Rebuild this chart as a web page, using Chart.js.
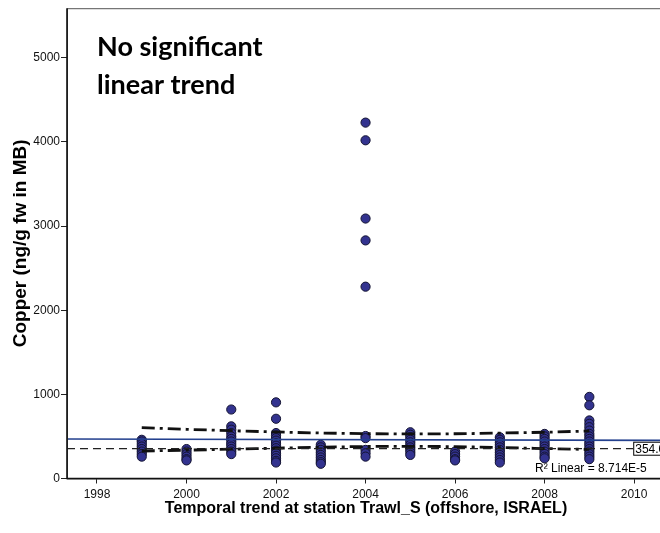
<!DOCTYPE html>
<html>
<head>
<meta charset="utf-8">
<script src="https://cdn.jsdelivr.net/npm/chart.js@4/dist/chart.umd.min.js"></script>
<style>
  html, body { margin: 0; padding: 0; background: #fff; overflow: hidden; }
  #wrap { width: 660px; height: 533px; overflow: hidden; }
</style>
</head>
<body>
<div id="wrap"><canvas id="chart" width="680" height="533"></canvas></div>
<script>
// sampling years and copper concentrations per year
const sampleYears = [1999, 2000, 2001, 2002, 2003, 2004, 2005, 2006, 2007, 2008, 2009];
const copperValues = [
  [460, 440, 410, 380, 350, 320, 290, 260],
  [350, 320, 290, 260, 230, 215],
  [820, 620, 580, 540, 500, 470, 440, 410, 380, 350, 320, 290],
  [905, 710, 540, 510, 480, 450, 420, 390, 360, 330, 300, 270, 240, 210, 190],
  [400, 370, 340, 310, 280, 250, 220, 195, 175],
  [4230, 4020, 3090, 2830, 2280, 505, 480, 340, 300, 260],
  [550, 520, 490, 460, 430, 400, 370, 340, 310, 280],
  [320, 290, 260, 230, 215],
  [490, 460, 430, 400, 370, 340, 310, 280, 250, 220, 190],
  [530, 500, 470, 440, 410, 380, 350, 320, 290, 260, 240],
  [970, 870, 690, 650, 610, 570, 530, 500, 470, 440, 410, 380, 350, 320, 290, 260, 230]
];

// linear fit (spans whole axis) and its 95% confidence band
const fitX = [1997.33, 2010.69];
const fitY = [469, 453];
const ciYears = [1999, 2000, 2001, 2002, 2003, 2004, 2005, 2006, 2007, 2008, 2009];
const ciUpper = [605, 585, 568, 553, 541, 533, 530, 532, 540, 550, 565];
const ciLower = [327, 337, 348, 360, 372, 380, 383, 378, 368, 356, 345];

// reference line
const refValue = 354.0;
const refX = [1997.33, 2009.98];

const xTicks = [1998, 2000, 2002, 2004, 2006, 2008, 2010];
const yTicks = [0, 1000, 2000, 3000, 4000, 5000];

const noteLines = ['No significant', 'linear trend'];
const r2Text = 'R\u00b2 Linear = 8.714E-5';

const points = sampleYears.flatMap((yr, i) => copperValues[i].map(v => ({ x: yr, y: v })));
const line = (xs, ys) => xs.map((x, i) => ({ x: x, y: ys[i] }));

const extras = {
  id: 'extras',
  afterDatasetsDraw(chart) {
    const { ctx, chartArea: a, scales: { x, y } } = chart;
    ctx.save();
    // frame
    ctx.strokeStyle = '#555';
    ctx.lineWidth = 1;
    ctx.strokeRect(a.left + 0.5, a.top + 0.5, a.right - a.left, a.bottom - a.top);
    ctx.strokeStyle = '#111';
    ctx.lineWidth = 1.6;
    ctx.beginPath();
    ctx.moveTo(a.left, a.top);
    ctx.lineTo(a.left, a.bottom);
    ctx.lineTo(a.right, a.bottom);
    ctx.stroke();

    // note
    ctx.fillStyle = '#000';
    ctx.font = 'bold 27px Lato';
    ctx.textBaseline = 'alphabetic';
    ctx.fillText(noteLines[0], a.left + 30, 56);
    ctx.fillText(noteLines[1], a.left + 30, 94);

    // R2 label
    ctx.font = '12px "Liberation Sans"';
    ctx.textBaseline = 'middle';
    ctx.fillText(r2Text, 535, 469);

    // reference value box at end of the dashed line
    const bx = x.getPixelForValue(refX[1]);
    const by = y.getPixelForValue(refValue);
    ctx.font = '12px "Liberation Sans"';
    const label = refValue.toFixed(1);
    const w = ctx.measureText(label).width + 4;
    ctx.fillStyle = '#fff';
    ctx.fillRect(bx, by - 6.5, w, 13);
    ctx.strokeStyle = '#000';
    ctx.lineWidth = 1;
    ctx.strokeRect(bx + 0.5, by - 6.5, w, 13);
    ctx.fillStyle = '#000';
    ctx.fillText(label, bx + 2, by + 0.5);
    ctx.restore();
  }
};

new Chart(document.getElementById('chart'), {
  type: 'scatter',
  data: {
    datasets: [
      {
        data: points,
        pointRadius: 4.6,
        pointBackgroundColor: '#33338f',
        pointBorderColor: '#141432',
        pointBorderWidth: 1,
        order: 5
      },
      {
        data: line(fitX, fitY),
        showLine: true,
        pointRadius: 0,
        borderColor: '#23408e',
        borderWidth: 1.6,
        order: 1
      },
      {
        data: line(refX, [refValue, refValue]),
        showLine: true,
        pointRadius: 0,
        borderColor: '#222',
        borderWidth: 1.3,
        borderDash: [8, 5],
        order: 2
      },
      {
        data: line(ciYears, ciUpper),
        showLine: true,
        pointRadius: 0,
        borderColor: '#111',
        borderWidth: 2.8,
        borderDash: [13, 5, 3, 5],
        cubicInterpolationMode: 'monotone',
        order: 3
      },
      {
        data: line(ciYears, ciLower),
        showLine: true,
        pointRadius: 0,
        borderColor: '#111',
        borderWidth: 2.8,
        borderDash: [13, 5, 3, 5],
        cubicInterpolationMode: 'monotone',
        order: 3
      }
    ]
  },
  options: {
    responsive: false,
    animation: false,
    devicePixelRatio: 1,
    layout: { padding: { top: 6, right: 15, left: 0, bottom: 0 } },
    plugins: { legend: { display: false }, tooltip: { enabled: false } },
    scales: {
      x: {
        type: 'linear',
        min: 1997.33,
        max: 2010.69,
        afterBuildTicks: s => { s.ticks = xTicks.map(v => ({ value: v })); },
        afterFit: s => { s.height = 54.5; },
        border: { display: false },
        grid: { drawOnChartArea: false, tickLength: 5, color: '#222' },
        ticks: {
          color: '#111', padding: 4,
          font: { family: 'Liberation Sans', size: 12 },
          callback: v => String(v)
        },
        title: {
          display: true,
          text: 'Temporal trend at station Trawl_S (offshore, ISRAEL)',
          color: '#000',
          font: { family: 'Liberation Sans', size: 16, weight: 'bold' },
          padding: { top: 0, bottom: 15 }
        }
      },
      y: {
        min: 0,
        max: 5590,
        afterBuildTicks: s => { s.ticks = yTicks.map(v => ({ value: v })); },
        afterFit: s => { s.width = 67; },
        border: { display: false },
        grid: { drawOnChartArea: false, tickLength: 6, color: '#222' },
        ticks: {
          color: '#111', padding: 1,
          font: { family: 'Liberation Sans', size: 12 },
          callback: v => String(v)
        },
        title: {
          display: true,
          text: 'Copper (ng/g fw in MB)',
          color: '#000',
          font: { family: 'Liberation Sans', size: 19, weight: 'bold' },
          padding: { top: 9, bottom: 0 }
        }
      }
    }
  },
  plugins: [extras]
});
</script>
</body>
</html>
